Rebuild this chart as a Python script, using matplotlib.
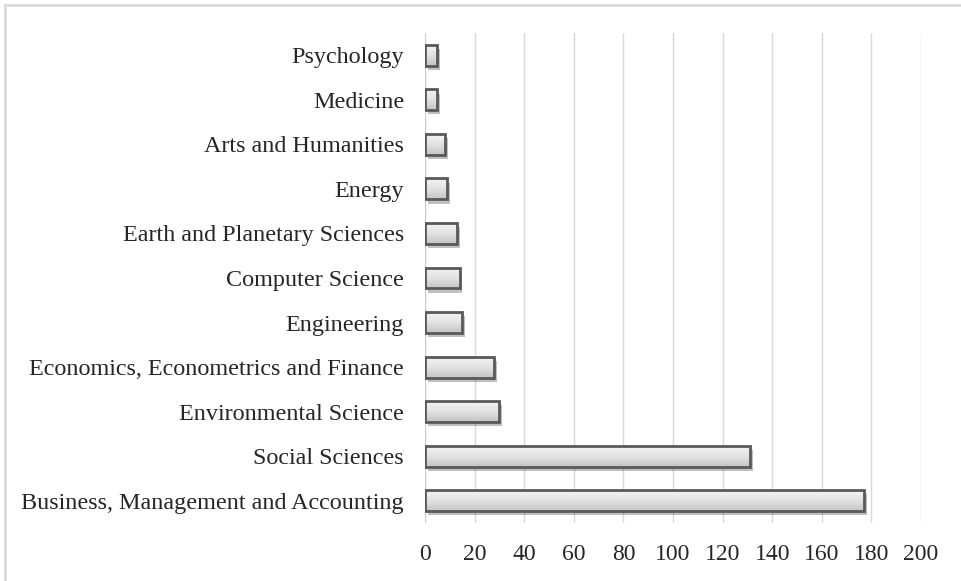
import matplotlib
matplotlib.use('Agg')
import matplotlib.pyplot as plt
import matplotlib.patheffects as pe
from matplotlib.lines import Line2D
import numpy as np

# subject areas, top to bottom as shown in the chart
categories = ['Psychology', 'Medicine', 'Arts and Humanities', 'Energy',
              'Earth and Planetary Sciences', 'Computer Science', 'Engineering',
              'Economics, Econometrics and Finance', 'Environmental Science',
              'Social Sciences', 'Business, Management and Accounting']
counts = [5, 5, 8, 9, 13, 14, 15, 28, 30, 131, 177]
xticks = [0, 20, 40, 60, 80, 100, 120, 140, 160, 180, 200]

plt.rcParams['font.family'] = ['Liberation Serif', 'DejaVu Serif']

fig = plt.figure(figsize=(9.61, 5.81), dpi=100)
ax = fig.add_axes([0.4422, 0.0998, 0.5162, 0.8434])

y = np.arange(len(categories))
h = 0.47

# base bars carry the drop shadow
base = ax.barh(y, counts, height=h, color='#cfcfcf', edgecolor='none', zorder=2)
for b in base:
    b.set_path_effects([pe.SimplePatchShadow(offset=(2, -3), shadow_rgbFace='#000000', alpha=0.25),
                        pe.Normal()])

# gradient fill, clipped to each bar
grad = np.linspace(0, 1, 64).reshape(-1, 1)
cmap = matplotlib.colors.LinearSegmentedColormap.from_list('g', ['#f4f4f4', '#e2e2e2', '#c4c4c4'])
for b in base:
    x0, y0, w, hh = b.get_x(), b.get_y(), b.get_width(), b.get_height()
    im = ax.imshow(grad, cmap=cmap, extent=[x0, x0 + w, y0 + hh, y0],
                   aspect='auto', origin='upper', zorder=3)
    im.set_clip_path(b)

# outlines on top
ax.barh(y, counts, height=h, color='none', edgecolor='#595959', linewidth=2, zorder=4)

ax.set_xlim(0, 200)
ax.set_ylim(len(categories) - 0.5, -0.5)
ax.set_xticks(xticks)
ax.set_yticks(y)
ax.set_yticklabels(categories)
ax.grid(axis='x', color='#d9d9d9', linewidth=1, zorder=0)
ax.set_axisbelow(True)
for s in ax.spines.values():
    s.set_visible(False)
ax.axvline(0, color='#c8c8c8', linewidth=1.2, zorder=1)
ax.tick_params(axis='both', length=0, colors='#262626')
ax.tick_params(axis='y', pad=15, labelsize=17.4)
ax.tick_params(axis='x', pad=15, labelsize=17)

# outer chart frame (top and left edges visible)
fig.add_artist(Line2D([0.0047, 1.0], [0.9914, 0.9914], color='#d9d9d9', linewidth=2))
fig.add_artist(Line2D([0.0052, 0.0052], [0.0, 0.9914], color='#d9d9d9', linewidth=2))

fig.savefig('out.png', dpi=100)
